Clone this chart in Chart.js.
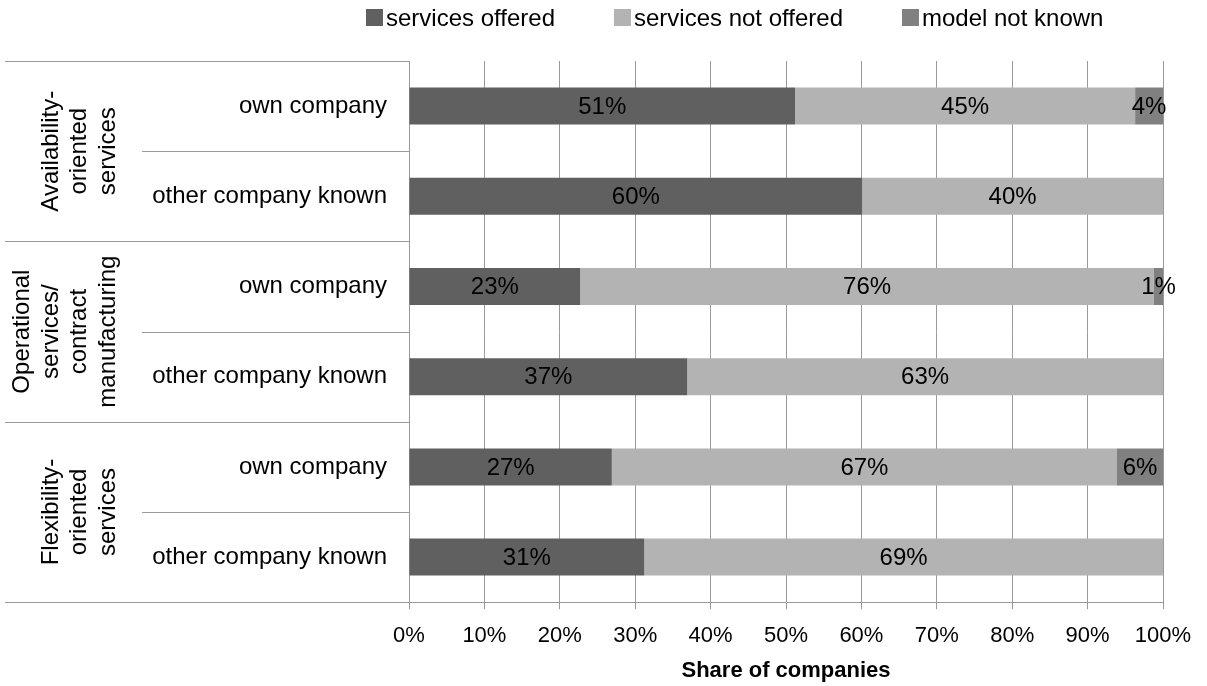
<!DOCTYPE html>
<html>
<head>
<meta charset="utf-8">
<script src="https://cdn.jsdelivr.net/npm/chart.js@4.4.1/dist/chart.umd.min.js"></script>
<style>
  html, body { margin: 0; padding: 0; background: #fff; }
  #wrap { width: 1207px; height: 686px; }
</style>
</head>
<body>
<div id="wrap"><canvas id="chart" width="1207" height="686"></canvas></div>
<script>
// rows, top to bottom
const rowLabels = ["own company", "other company known", "own company", "other company known", "own company", "other company known"];
// outer grouping, two rows each
const groupLabels = [
    ["Availability-", "oriented", "services"],
    ["Operational", "services/", "contract", "manufacturing"],
    ["Flexibility-", "oriented", "services"],
];
const rowsPerGroup = 2;

const seriesNames = ["services offered", "services not offered", "model not known"];
const seriesColors = ["#606060", "#b3b3b3", "#808080"];

// share of companies in %
const offered = [51.2, 60.1, 22.7, 36.9, 26.9, 31.2];
const notOffered = [45.1, 39.9, 76.1, 63.1, 67.0, 68.8];
const notKnown = [3.7, 0, 1.2, 0, 6.1, 0];

const xTitle = "Share of companies";

const FONT = "'Liberation Sans', Arial, sans-serif";
const LINE = "#9a9a9a";

// % value in the middle of each segment
const segmentLabels = {
    id: "segmentLabels",
    afterDatasetsDraw(chart) {
        const ctx = chart.ctx;
        ctx.save();
        ctx.font = "24px " + FONT;
        ctx.fillStyle = "#000";
        ctx.textAlign = "center";
        ctx.textBaseline = "middle";
        chart.data.datasets.forEach((ds, i) => {
            chart.getDatasetMeta(i).data.forEach((bar, j) => {
                const v = ds.data[j];
                if (!v) return;
                ctx.fillText(Math.round(v) + "%", (bar.x + bar.base) / 2, bar.y + 1);
            });
        });
        ctx.restore();
    },
};

// bracket lines and rotated group names left of the y axis
const groupAxis = {
    id: "groupAxis",
    afterDraw(chart) {
        const ctx = chart.ctx;
        const y = chart.scales.y;
        const left = chart.chartArea.left;
        const step = y.getPixelForValue(1) - y.getPixelForValue(0);
        ctx.save();
        ctx.strokeStyle = LINE;
        ctx.lineWidth = 1;
        for (let i = 0; i <= rowLabels.length; i++) {
            const py = Math.round(y.getPixelForValue(i) - step / 2) + 0.5;
            const x0 = i % rowsPerGroup === 0 ? 5 : 142;
            ctx.beginPath();
            ctx.moveTo(x0, py);
            ctx.lineTo(left, py);
            ctx.stroke();
        }
        ctx.fillStyle = "#000";
        ctx.font = "24px " + FONT;
        ctx.textAlign = "center";
        ctx.textBaseline = "middle";
        groupLabels.forEach((lines, g) => {
            const cy = (y.getPixelForValue(g * rowsPerGroup) + y.getPixelForValue(g * rowsPerGroup + rowsPerGroup - 1)) / 2;
            lines.forEach((t, k) => {
                const cx = 108 - (lines.length - 1 - k) * 28.5;
                ctx.save();
                ctx.translate(cx, cy);
                ctx.rotate(-Math.PI / 2);
                ctx.fillText(t, 0, 0);
                ctx.restore();
            });
        });
        ctx.restore();
    },
};

// legend along the top, small square + name
const topLegend = {
    id: "topLegend",
    afterDraw(chart) {
        const ctx = chart.ctx;
        ctx.save();
        ctx.font = "24px " + FONT;
        ctx.textBaseline = "middle";
        ctx.textAlign = "left";
        let x = 366;
        seriesNames.forEach((name, i) => {
            ctx.fillStyle = seriesColors[i];
            ctx.fillRect(x, 9, 17, 17);
            ctx.fillStyle = "#000";
            ctx.fillText(name, x + 20, 19);
            x += 20 + ctx.measureText(name).width + 59;
        });
        ctx.restore();
    },
};

new Chart(document.getElementById("chart"), {
    type: "bar",
    data: {
        labels: rowLabels,
        datasets: [
            { label: seriesNames[0], data: offered, backgroundColor: seriesColors[0] },
            { label: seriesNames[1], data: notOffered, backgroundColor: seriesColors[1] },
            { label: seriesNames[2], data: notKnown, backgroundColor: seriesColors[2] },
        ],
    },
    options: {
        indexAxis: "y",
        responsive: false,
        animation: false,
        devicePixelRatio: 1,
        barPercentage: 0.41,
        categoryPercentage: 1,
        layout: { padding: { top: 61, right: 44, bottom: 2, left: 0 } },
        plugins: {
            legend: { display: false },
            tooltip: { enabled: false },
        },
        scales: {
            x: {
                stacked: true,
                min: 0,
                max: 100,
                ticks: {
                    stepSize: 10,
                    callback: (v) => v + "%",
                    color: "#000",
                    font: { family: FONT, size: 22 },
                    padding: 14,
                    maxRotation: 0,
                },
                grid: { color: LINE, tickLength: 7 },
                border: { color: LINE },
                title: {
                    display: true,
                    text: xTitle,
                    color: "#000",
                    font: { family: FONT, size: 22, weight: "bold" },
                    padding: { top: -6, bottom: 0 },
                },
            },
            y: {
                stacked: true,
                afterFit(scale) {
                    scale.width = 409;
                },
                ticks: {
                    color: "#000",
                    font: { family: FONT, size: 24 },
                    padding: 22,
                },
                grid: { display: false, drawTicks: false },
                border: { color: LINE },
            },
        },
    },
    plugins: [segmentLabels, groupAxis, topLegend],
});
</script>
</body>
</html>
